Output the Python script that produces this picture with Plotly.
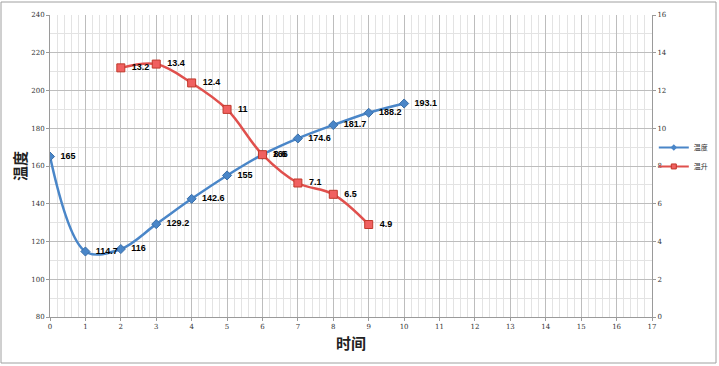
import plotly.graph_objects as go

time_temp = [0, 1, 2, 3, 4, 5, 6, 7, 8, 9, 10]
temp = [165, 114.7, 116, 129.2, 142.6, 155, 166, 174.6, 181.7, 188.2, 193.1]
time_rise = [2, 3, 4, 5, 6, 7, 8, 9]
rise = [13.2, 13.4, 12.4, 11, 8.6, 7.1, 6.5, 4.9]

blue = "#4a86c8"
red = "#e0504d"
lab_font = dict(family="Liberation Sans, Arial", size=9, color="black")

fig = go.Figure()
fig.add_trace(go.Scatter(
    x=time_temp, y=temp, name="温度", mode="lines+markers+text", showlegend=False,
    line=dict(color=blue, width=2.5, shape="spline", smoothing=1),
    marker=dict(symbol="diamond", size=7, color=blue, line=dict(color="#3a6fa8", width=1)),
    text=[f"<b>  {v:g}</b>" for v in temp], textposition="middle right",
    textfont=lab_font, yaxis="y"))
fig.add_trace(go.Scatter(
    x=time_rise, y=rise, name="温升", mode="lines+markers+text", showlegend=False,
    line=dict(color=red, width=2.5, shape="spline", smoothing=1),
    marker=dict(symbol="square", size=8, color="#f06060", line=dict(color="#c0392b", width=1)),
    text=[f"<b>  {v:g}</b>" for v in rise], textposition="middle right",
    textfont=lab_font, yaxis="y2"))
# legend entries with small symbols
fig.add_trace(go.Scatter(x=[None], y=[None], name="温度", mode="lines+markers",
                         line=dict(color=blue, width=2),
                         marker=dict(symbol="diamond", size=5, color=blue)))
fig.add_trace(go.Scatter(x=[None], y=[None], name="温升", mode="lines+markers",
                         line=dict(color=red, width=2),
                         marker=dict(symbol="square", size=5, color="#f06060", line=dict(color="#c0392b", width=1))))

tick_font = dict(family="DejaVu Serif, Liberation Serif", size=7, color="#333333")
fig.update_layout(
    width=719, height=366,
    margin=dict(l=50, r=67, t=15, b=49, autoexpand=False),
    paper_bgcolor="white", plot_bgcolor="white",
    showlegend=True,
    legend=dict(x=1.003, y=0.53, xanchor="left", yanchor="middle",
                font=dict(size=7, color="#333333", family="Noto Sans CJK SC"),
                itemwidth=30, tracegroupgap=0, bgcolor="rgba(0,0,0,0)"),
    xaxis=dict(range=[0, 17], dtick=1, tick0=0, showgrid=True, gridcolor="#bdbdbd", gridwidth=1,
               minor=dict(dtick=0.2, showgrid=True, gridcolor="#e3e3e3", gridwidth=1),
               showline=True, linecolor="#9a9a9a", ticks="outside", ticklen=3, tickcolor="#9a9a9a",
               tickfont=tick_font, zeroline=False, automargin=False,
               title=dict(text="<b>时间</b>", font=dict(size=15, family="Noto Sans CJK SC", color="#222"), standoff=8)),
    yaxis=dict(range=[80, 240], dtick=20, showgrid=True, gridcolor="#bdbdbd", gridwidth=1,
               minor=dict(dtick=10, showgrid=True, gridcolor="#e3e3e3", gridwidth=1),
               showline=True, linecolor="#9a9a9a", ticks="outside", ticklen=3, tickcolor="#9a9a9a",
               tickfont=tick_font, zeroline=False, automargin=False,
               title=dict(text="<b>温度</b>", font=dict(size=15, family="Noto Sans CJK SC", color="#222"), standoff=0)),
    yaxis2=dict(range=[0, 16], dtick=2, overlaying="y", side="right", showgrid=False,
                showline=True, linecolor="#9a9a9a", ticks="outside", ticklen=3, tickcolor="#9a9a9a",
                tickfont=tick_font, zeroline=False, automargin=False),
    shapes=[dict(type="rect", xref="paper", yref="paper", x0=-49/602, x1=1+64/602,
                 y0=-46/302, y1=1+13/302, line=dict(color="#a0a0a0", width=1), layer="below")],
)
fig.write_html("out.html", config={"displayModeBar": False},
               post_script="document.body.style.margin='0';document.body.style.overflow='hidden';")
